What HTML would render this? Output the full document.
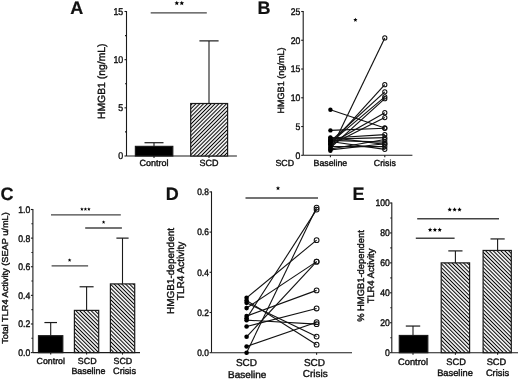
<!DOCTYPE html>
<html><head><meta charset="utf-8"><style>
html,body{margin:0;padding:0;background:#fff;width:520px;height:379px;overflow:hidden}
svg{display:block;will-change:transform}
text{font-family:"Liberation Sans",sans-serif;stroke:#111;stroke-width:0.4px;text-rendering:geometricPrecision}
text.L{stroke-width:0.2px}
</style></head><body>
<svg width="520" height="379" viewBox="0 0 520 379" font-family="Liberation Sans, sans-serif">
<defs>
<pattern id="hu" patternUnits="userSpaceOnUse" width="2.7" height="2.7" patternTransform="rotate(45)"><rect width="2.7" height="2.7" fill="#fff"/><line x1="1.35" y1="0" x2="1.35" y2="2.7" stroke="#000" stroke-width="1.05"/></pattern>
<pattern id="hd" patternUnits="userSpaceOnUse" width="2.7" height="2.7" patternTransform="rotate(-45)"><rect width="2.7" height="2.7" fill="#fff"/><line x1="1.35" y1="0" x2="1.35" y2="2.7" stroke="#000" stroke-width="1.05"/></pattern>
</defs>
<rect width="520" height="379" fill="#fff"/>
<text class="L" x="70.20" y="13.70" font-size="18" text-anchor="start" font-weight="bold" fill="#111">A</text>
<line x1="126.50" y1="156.00" x2="126.50" y2="11.00" stroke="#1a1a1a" stroke-width="1.1"/>
<line x1="124.50" y1="156.00" x2="126.50" y2="156.00" stroke="#1a1a1a" stroke-width="1.1"/>
<line x1="124.50" y1="107.83" x2="126.50" y2="107.83" stroke="#1a1a1a" stroke-width="1.1"/>
<line x1="124.50" y1="59.67" x2="126.50" y2="59.67" stroke="#1a1a1a" stroke-width="1.1"/>
<line x1="124.50" y1="11.50" x2="126.50" y2="11.50" stroke="#1a1a1a" stroke-width="1.1"/>
<line x1="125.00" y1="131.92" x2="126.50" y2="131.92" stroke="#1a1a1a" stroke-width="1.1"/>
<line x1="125.00" y1="83.75" x2="126.50" y2="83.75" stroke="#1a1a1a" stroke-width="1.1"/>
<line x1="125.00" y1="35.58" x2="126.50" y2="35.58" stroke="#1a1a1a" stroke-width="1.1"/>
<text transform="translate(123.20,159.40) scale(0.9,1)" font-size="9.8" text-anchor="end" fill="#111">0</text>
<text transform="translate(123.20,111.23) scale(0.9,1)" font-size="9.8" text-anchor="end" fill="#111">5</text>
<text transform="translate(123.20,63.07) scale(0.9,1)" font-size="9.8" text-anchor="end" fill="#111">10</text>
<text transform="translate(123.20,14.90) scale(0.9,1)" font-size="9.8" text-anchor="end" fill="#111">15</text>
<line x1="126.50" y1="156.00" x2="236.90" y2="156.00" stroke="#1a1a1a" stroke-width="1.1"/>
<line x1="154.00" y1="156.00" x2="154.00" y2="158.00" stroke="#1a1a1a" stroke-width="1.1"/>
<line x1="209.00" y1="156.00" x2="209.00" y2="158.00" stroke="#1a1a1a" stroke-width="1.1"/>
<rect x="135.40" y="146.37" width="37.40" height="9.63" fill="#000" stroke="#1a1a1a" stroke-width="1.2"/>
<line x1="154.00" y1="146.37" x2="154.00" y2="142.71" stroke="#1a1a1a" stroke-width="1.1"/>
<line x1="144.50" y1="142.71" x2="163.50" y2="142.71" stroke="#1a1a1a" stroke-width="1.2"/>
<rect x="190.70" y="103.50" width="36.90" height="52.50" fill="url(#hu)" stroke="#1a1a1a" stroke-width="1.2"/>
<line x1="209.00" y1="103.50" x2="209.00" y2="40.88" stroke="#1a1a1a" stroke-width="1.1"/>
<line x1="199.40" y1="40.88" x2="218.60" y2="40.88" stroke="#1a1a1a" stroke-width="1.2"/>
<line x1="150.70" y1="12.90" x2="206.80" y2="12.90" stroke="#444" stroke-width="1.35"/>
<polygon points="176.80,0.70 177.46,2.29 179.18,2.43 177.87,3.55 178.27,5.22 176.80,4.33 175.33,5.22 175.73,3.55 174.42,2.43 176.14,2.29" fill="#000"/>
<polygon points="181.80,0.70 182.46,2.29 184.18,2.43 182.87,3.55 183.27,5.22 181.80,4.33 180.33,5.22 180.73,3.55 179.42,2.43 181.14,2.29" fill="#000"/>
<text transform="translate(104.50,81.30) rotate(-90)" font-size="10.4" text-anchor="middle" font-weight="normal" fill="#111">HMGB1 (ng/mL)</text>
<text x="154.00" y="166.20" font-size="9" text-anchor="middle" font-weight="normal" fill="#111">Control</text>
<text x="209.00" y="166.20" font-size="9" text-anchor="middle" font-weight="normal" fill="#111">SCD</text>
<text class="L" x="257.60" y="13.70" font-size="18" text-anchor="start" font-weight="bold" fill="#111">B</text>
<line x1="303.20" y1="155.30" x2="303.20" y2="11.00" stroke="#1a1a1a" stroke-width="1.1"/>
<line x1="301.20" y1="155.30" x2="303.20" y2="155.30" stroke="#1a1a1a" stroke-width="1.1"/>
<line x1="301.20" y1="126.54" x2="303.20" y2="126.54" stroke="#1a1a1a" stroke-width="1.1"/>
<line x1="301.20" y1="97.78" x2="303.20" y2="97.78" stroke="#1a1a1a" stroke-width="1.1"/>
<line x1="301.20" y1="69.02" x2="303.20" y2="69.02" stroke="#1a1a1a" stroke-width="1.1"/>
<line x1="301.20" y1="40.26" x2="303.20" y2="40.26" stroke="#1a1a1a" stroke-width="1.1"/>
<line x1="301.20" y1="11.50" x2="303.20" y2="11.50" stroke="#1a1a1a" stroke-width="1.1"/>
<text transform="translate(300.30,158.70) scale(0.9,1)" font-size="9.6" text-anchor="end" fill="#111">0</text>
<text transform="translate(300.30,129.94) scale(0.9,1)" font-size="9.6" text-anchor="end" fill="#111">5</text>
<text transform="translate(300.30,101.18) scale(0.9,1)" font-size="9.6" text-anchor="end" fill="#111">10</text>
<text transform="translate(300.30,72.42) scale(0.9,1)" font-size="9.6" text-anchor="end" fill="#111">15</text>
<text transform="translate(300.30,43.66) scale(0.9,1)" font-size="9.6" text-anchor="end" fill="#111">20</text>
<text transform="translate(300.30,14.90) scale(0.9,1)" font-size="9.6" text-anchor="end" fill="#111">25</text>
<line x1="303.20" y1="155.30" x2="412.40" y2="155.30" stroke="#1a1a1a" stroke-width="1.1"/>
<line x1="330.40" y1="155.30" x2="330.40" y2="157.30" stroke="#1a1a1a" stroke-width="1.1"/>
<line x1="384.80" y1="155.30" x2="384.80" y2="157.30" stroke="#1a1a1a" stroke-width="1.1"/>
<line x1="330.40" y1="150.70" x2="384.80" y2="37.90" stroke="#111" stroke-width="1.15"/>
<line x1="330.40" y1="109.74" x2="384.80" y2="127.98" stroke="#111" stroke-width="1.15"/>
<line x1="330.40" y1="130.39" x2="384.80" y2="128.27" stroke="#111" stroke-width="1.15"/>
<line x1="330.40" y1="144.37" x2="384.80" y2="84.67" stroke="#111" stroke-width="1.15"/>
<line x1="330.40" y1="141.50" x2="384.80" y2="91.86" stroke="#111" stroke-width="1.15"/>
<line x1="330.40" y1="142.65" x2="384.80" y2="96.86" stroke="#111" stroke-width="1.15"/>
<line x1="330.40" y1="147.82" x2="384.80" y2="98.64" stroke="#111" stroke-width="1.15"/>
<line x1="330.40" y1="143.80" x2="384.80" y2="112.68" stroke="#111" stroke-width="1.15"/>
<line x1="330.40" y1="144.95" x2="384.80" y2="117.57" stroke="#111" stroke-width="1.15"/>
<line x1="330.40" y1="138.04" x2="384.80" y2="134.59" stroke="#111" stroke-width="1.15"/>
<line x1="330.40" y1="139.19" x2="384.80" y2="137.58" stroke="#111" stroke-width="1.15"/>
<line x1="330.40" y1="148.97" x2="384.80" y2="139.48" stroke="#111" stroke-width="1.15"/>
<line x1="330.40" y1="140.34" x2="384.80" y2="142.07" stroke="#111" stroke-width="1.15"/>
<line x1="330.40" y1="137.47" x2="384.80" y2="144.37" stroke="#111" stroke-width="1.15"/>
<line x1="330.40" y1="146.67" x2="384.80" y2="146.67" stroke="#111" stroke-width="1.15"/>
<line x1="330.40" y1="141.50" x2="384.80" y2="149.32" stroke="#111" stroke-width="1.15"/>
<line x1="330.40" y1="149.84" x2="384.80" y2="143.80" stroke="#111" stroke-width="1.15"/>
<circle cx="330.4" cy="150.70" r="2.2" fill="#000"/>
<circle cx="330.4" cy="109.74" r="2.2" fill="#000"/>
<circle cx="330.4" cy="130.39" r="2.2" fill="#000"/>
<circle cx="330.4" cy="144.37" r="2.2" fill="#000"/>
<circle cx="330.4" cy="141.50" r="2.2" fill="#000"/>
<circle cx="330.4" cy="142.65" r="2.2" fill="#000"/>
<circle cx="330.4" cy="147.82" r="2.2" fill="#000"/>
<circle cx="330.4" cy="143.80" r="2.2" fill="#000"/>
<circle cx="330.4" cy="144.95" r="2.2" fill="#000"/>
<circle cx="330.4" cy="138.04" r="2.2" fill="#000"/>
<circle cx="330.4" cy="139.19" r="2.2" fill="#000"/>
<circle cx="330.4" cy="148.97" r="2.2" fill="#000"/>
<circle cx="330.4" cy="140.34" r="2.2" fill="#000"/>
<circle cx="330.4" cy="137.47" r="2.2" fill="#000"/>
<circle cx="330.4" cy="146.67" r="2.2" fill="#000"/>
<circle cx="330.4" cy="141.50" r="2.2" fill="#000"/>
<circle cx="330.4" cy="149.84" r="2.2" fill="#000"/>
<circle cx="384.8" cy="37.90" r="2.1" fill="none" stroke="#111" stroke-width="1.05"/>
<circle cx="384.8" cy="127.98" r="2.1" fill="none" stroke="#111" stroke-width="1.05"/>
<circle cx="384.8" cy="128.27" r="2.1" fill="none" stroke="#111" stroke-width="1.05"/>
<circle cx="384.8" cy="84.67" r="2.1" fill="none" stroke="#111" stroke-width="1.05"/>
<circle cx="384.8" cy="91.86" r="2.1" fill="none" stroke="#111" stroke-width="1.05"/>
<circle cx="384.8" cy="96.86" r="2.1" fill="none" stroke="#111" stroke-width="1.05"/>
<circle cx="384.8" cy="98.64" r="2.1" fill="none" stroke="#111" stroke-width="1.05"/>
<circle cx="384.8" cy="112.68" r="2.1" fill="none" stroke="#111" stroke-width="1.05"/>
<circle cx="384.8" cy="117.57" r="2.1" fill="none" stroke="#111" stroke-width="1.05"/>
<circle cx="384.8" cy="134.59" r="2.1" fill="none" stroke="#111" stroke-width="1.05"/>
<circle cx="384.8" cy="137.58" r="2.1" fill="none" stroke="#111" stroke-width="1.05"/>
<circle cx="384.8" cy="139.48" r="2.1" fill="none" stroke="#111" stroke-width="1.05"/>
<circle cx="384.8" cy="142.07" r="2.1" fill="none" stroke="#111" stroke-width="1.05"/>
<circle cx="384.8" cy="144.37" r="2.1" fill="none" stroke="#111" stroke-width="1.05"/>
<circle cx="384.8" cy="146.67" r="2.1" fill="none" stroke="#111" stroke-width="1.05"/>
<circle cx="384.8" cy="149.32" r="2.1" fill="none" stroke="#111" stroke-width="1.05"/>
<circle cx="384.8" cy="143.80" r="2.1" fill="none" stroke="#111" stroke-width="1.05"/>
<polygon points="355.40,17.70 355.98,19.10 357.49,19.22 356.34,20.21 356.69,21.68 355.40,20.89 354.11,21.68 354.46,20.21 353.31,19.22 354.82,19.10" fill="#000"/>
<text transform="translate(284.00,80.50) rotate(-90)" font-size="9.1" text-anchor="middle" font-weight="normal" fill="#111">HMGB1 (ng/mL)</text>
<text x="284.80" y="166.10" font-size="8.8" text-anchor="middle" font-weight="normal" fill="#111">SCD</text>
<text x="330.40" y="166.10" font-size="8.8" text-anchor="middle" font-weight="normal" fill="#111">Baseline</text>
<text x="384.80" y="166.10" font-size="8.8" text-anchor="middle" font-weight="normal" fill="#111">Crisis</text>
<text class="L" x="0.60" y="199.70" font-size="18" text-anchor="start" font-weight="bold" fill="#111">C</text>
<line x1="32.90" y1="352.60" x2="32.90" y2="209.00" stroke="#1a1a1a" stroke-width="1.1"/>
<line x1="30.90" y1="352.60" x2="32.90" y2="352.60" stroke="#1a1a1a" stroke-width="1.1"/>
<line x1="30.90" y1="323.98" x2="32.90" y2="323.98" stroke="#1a1a1a" stroke-width="1.1"/>
<line x1="30.90" y1="295.36" x2="32.90" y2="295.36" stroke="#1a1a1a" stroke-width="1.1"/>
<line x1="30.90" y1="266.74" x2="32.90" y2="266.74" stroke="#1a1a1a" stroke-width="1.1"/>
<line x1="30.90" y1="238.12" x2="32.90" y2="238.12" stroke="#1a1a1a" stroke-width="1.1"/>
<line x1="30.90" y1="209.50" x2="32.90" y2="209.50" stroke="#1a1a1a" stroke-width="1.1"/>
<line x1="31.40" y1="338.29" x2="32.90" y2="338.29" stroke="#1a1a1a" stroke-width="1.1"/>
<line x1="31.40" y1="309.67" x2="32.90" y2="309.67" stroke="#1a1a1a" stroke-width="1.1"/>
<line x1="31.40" y1="281.05" x2="32.90" y2="281.05" stroke="#1a1a1a" stroke-width="1.1"/>
<line x1="31.40" y1="252.43" x2="32.90" y2="252.43" stroke="#1a1a1a" stroke-width="1.1"/>
<line x1="31.40" y1="223.81" x2="32.90" y2="223.81" stroke="#1a1a1a" stroke-width="1.1"/>
<text transform="translate(30.20,356.00) scale(0.9,1)" font-size="9.6" text-anchor="end" fill="#111">0.0</text>
<text transform="translate(30.20,327.38) scale(0.9,1)" font-size="9.6" text-anchor="end" fill="#111">0.2</text>
<text transform="translate(30.20,298.76) scale(0.9,1)" font-size="9.6" text-anchor="end" fill="#111">0.4</text>
<text transform="translate(30.20,270.14) scale(0.9,1)" font-size="9.6" text-anchor="end" fill="#111">0.6</text>
<text transform="translate(30.20,241.52) scale(0.9,1)" font-size="9.6" text-anchor="end" fill="#111">0.8</text>
<text transform="translate(30.20,212.90) scale(0.9,1)" font-size="9.6" text-anchor="end" fill="#111">1.0</text>
<line x1="32.90" y1="352.60" x2="140.00" y2="352.60" stroke="#1a1a1a" stroke-width="1.1"/>
<line x1="50.70" y1="352.60" x2="50.70" y2="354.60" stroke="#1a1a1a" stroke-width="1.1"/>
<line x1="86.60" y1="352.60" x2="86.60" y2="354.60" stroke="#1a1a1a" stroke-width="1.1"/>
<line x1="122.50" y1="352.60" x2="122.50" y2="354.60" stroke="#1a1a1a" stroke-width="1.1"/>
<rect x="38.50" y="335.71" width="24.30" height="16.89" fill="#000" stroke="#1a1a1a" stroke-width="1.2"/>
<line x1="50.70" y1="335.71" x2="50.70" y2="322.55" stroke="#1a1a1a" stroke-width="1.1"/>
<line x1="44.40" y1="322.55" x2="57.00" y2="322.55" stroke="#1a1a1a" stroke-width="1.2"/>
<rect x="74.40" y="310.39" width="24.30" height="42.21" fill="url(#hd)" stroke="#1a1a1a" stroke-width="1.2"/>
<line x1="86.60" y1="310.39" x2="86.60" y2="286.77" stroke="#1a1a1a" stroke-width="1.1"/>
<line x1="79.60" y1="286.77" x2="93.60" y2="286.77" stroke="#1a1a1a" stroke-width="1.2"/>
<rect x="110.40" y="283.91" width="24.30" height="68.69" fill="url(#hd)" stroke="#1a1a1a" stroke-width="1.2"/>
<line x1="122.50" y1="283.91" x2="122.50" y2="238.12" stroke="#1a1a1a" stroke-width="1.1"/>
<line x1="116.40" y1="238.12" x2="128.60" y2="238.12" stroke="#1a1a1a" stroke-width="1.2"/>
<line x1="51.00" y1="214.80" x2="120.80" y2="214.80" stroke="#444" stroke-width="1.35"/>
<polygon points="81.90,207.20 82.40,208.41 83.71,208.51 82.71,209.36 83.02,210.64 81.90,209.95 80.78,210.64 81.09,209.36 80.09,208.51 81.40,208.41" fill="#000"/>
<polygon points="85.40,207.20 85.90,208.41 87.21,208.51 86.21,209.36 86.52,210.64 85.40,209.95 84.28,210.64 84.59,209.36 83.59,208.51 84.90,208.41" fill="#000"/>
<polygon points="88.90,207.20 89.40,208.41 90.71,208.51 89.71,209.36 90.02,210.64 88.90,209.95 87.78,210.64 88.09,209.36 87.09,208.51 88.40,208.41" fill="#000"/>
<line x1="85.20" y1="228.00" x2="121.90" y2="228.00" stroke="#444" stroke-width="1.35"/>
<polygon points="103.60,220.20 104.10,221.41 105.41,221.51 104.41,222.36 104.72,223.64 103.60,222.95 102.48,223.64 102.79,222.36 101.79,221.51 103.10,221.41" fill="#000"/>
<line x1="51.60" y1="265.80" x2="88.10" y2="265.80" stroke="#444" stroke-width="1.35"/>
<polygon points="69.60,258.30 70.10,259.51 71.41,259.61 70.41,260.46 70.72,261.74 69.60,261.06 68.48,261.74 68.79,260.46 67.79,259.61 69.10,259.51" fill="#000"/>
<text transform="translate(8.3,278) rotate(-90) scale(1.07,1)" font-size="8.6" text-anchor="middle" fill="#111">Total TLR4 Activity (SEAP u/mL)</text>
<text x="50.80" y="363.60" font-size="8.8" text-anchor="middle" font-weight="normal" fill="#111">Control</text>
<text x="87.20" y="363.60" font-size="8.9" text-anchor="middle" font-weight="normal" fill="#111">SCD</text>
<text x="88.40" y="373.80" font-size="8.9" text-anchor="middle" font-weight="normal" fill="#111">Baseline</text>
<text x="122.90" y="363.60" font-size="8.9" text-anchor="middle" font-weight="normal" fill="#111">SCD</text>
<text x="124.50" y="373.80" font-size="9.2" text-anchor="middle" font-weight="normal" fill="#111">Crisis</text>
<text class="L" x="165.70" y="199.70" font-size="18" text-anchor="start" font-weight="bold" fill="#111">D</text>
<line x1="211.50" y1="352.70" x2="211.50" y2="191.40" stroke="#1a1a1a" stroke-width="1.1"/>
<line x1="209.50" y1="352.70" x2="211.50" y2="352.70" stroke="#1a1a1a" stroke-width="1.1"/>
<line x1="209.50" y1="312.50" x2="211.50" y2="312.50" stroke="#1a1a1a" stroke-width="1.1"/>
<line x1="209.50" y1="272.30" x2="211.50" y2="272.30" stroke="#1a1a1a" stroke-width="1.1"/>
<line x1="209.50" y1="232.10" x2="211.50" y2="232.10" stroke="#1a1a1a" stroke-width="1.1"/>
<line x1="209.50" y1="191.90" x2="211.50" y2="191.90" stroke="#1a1a1a" stroke-width="1.1"/>
<text transform="translate(208.80,356.00) scale(0.9,1)" font-size="9.3" text-anchor="end" fill="#111">0.0</text>
<text transform="translate(208.80,315.80) scale(0.9,1)" font-size="9.3" text-anchor="end" fill="#111">0.2</text>
<text transform="translate(208.80,275.60) scale(0.9,1)" font-size="9.3" text-anchor="end" fill="#111">0.4</text>
<text transform="translate(208.80,235.40) scale(0.9,1)" font-size="9.3" text-anchor="end" fill="#111">0.6</text>
<text transform="translate(208.80,195.20) scale(0.9,1)" font-size="9.3" text-anchor="end" fill="#111">0.8</text>
<line x1="211.50" y1="352.70" x2="352.00" y2="352.70" stroke="#1a1a1a" stroke-width="1.1"/>
<line x1="246.60" y1="352.70" x2="246.60" y2="354.70" stroke="#1a1a1a" stroke-width="1.1"/>
<line x1="316.60" y1="352.70" x2="316.60" y2="354.70" stroke="#1a1a1a" stroke-width="1.1"/>
<line x1="246.60" y1="352.70" x2="316.60" y2="207.58" stroke="#111" stroke-width="1.1"/>
<line x1="246.60" y1="318.33" x2="316.60" y2="209.59" stroke="#111" stroke-width="1.1"/>
<line x1="246.60" y1="297.83" x2="316.60" y2="240.14" stroke="#111" stroke-width="1.1"/>
<line x1="246.60" y1="308.08" x2="316.60" y2="261.65" stroke="#111" stroke-width="1.1"/>
<line x1="246.60" y1="336.82" x2="316.60" y2="261.65" stroke="#111" stroke-width="1.1"/>
<line x1="246.60" y1="326.57" x2="316.60" y2="308.48" stroke="#111" stroke-width="1.1"/>
<line x1="246.60" y1="346.47" x2="316.60" y2="322.15" stroke="#111" stroke-width="1.1"/>
<line x1="246.60" y1="316.12" x2="316.60" y2="290.39" stroke="#111" stroke-width="1.1"/>
<line x1="246.60" y1="320.14" x2="316.60" y2="324.16" stroke="#111" stroke-width="1.1"/>
<line x1="246.60" y1="300.44" x2="316.60" y2="344.66" stroke="#111" stroke-width="1.1"/>
<line x1="246.60" y1="302.85" x2="316.60" y2="336.62" stroke="#111" stroke-width="1.1"/>
<circle cx="246.6" cy="352.70" r="2.3" fill="#000"/>
<circle cx="246.6" cy="318.33" r="2.3" fill="#000"/>
<circle cx="246.6" cy="297.83" r="2.3" fill="#000"/>
<circle cx="246.6" cy="308.08" r="2.3" fill="#000"/>
<circle cx="246.6" cy="336.82" r="2.3" fill="#000"/>
<circle cx="246.6" cy="326.57" r="2.3" fill="#000"/>
<circle cx="246.6" cy="346.47" r="2.3" fill="#000"/>
<circle cx="246.6" cy="316.12" r="2.3" fill="#000"/>
<circle cx="246.6" cy="320.14" r="2.3" fill="#000"/>
<circle cx="246.6" cy="300.44" r="2.3" fill="#000"/>
<circle cx="246.6" cy="302.85" r="2.3" fill="#000"/>
<circle cx="316.6" cy="207.58" r="2.4" fill="none" stroke="#111" stroke-width="1.05"/>
<circle cx="316.6" cy="209.59" r="2.4" fill="none" stroke="#111" stroke-width="1.05"/>
<circle cx="316.6" cy="240.14" r="2.4" fill="none" stroke="#111" stroke-width="1.05"/>
<circle cx="316.6" cy="261.65" r="2.4" fill="none" stroke="#111" stroke-width="1.05"/>
<circle cx="316.6" cy="261.65" r="2.4" fill="none" stroke="#111" stroke-width="1.05"/>
<circle cx="316.6" cy="308.48" r="2.4" fill="none" stroke="#111" stroke-width="1.05"/>
<circle cx="316.6" cy="322.15" r="2.4" fill="none" stroke="#111" stroke-width="1.05"/>
<circle cx="316.6" cy="290.39" r="2.4" fill="none" stroke="#111" stroke-width="1.05"/>
<circle cx="316.6" cy="324.16" r="2.4" fill="none" stroke="#111" stroke-width="1.05"/>
<circle cx="316.6" cy="344.66" r="2.4" fill="none" stroke="#111" stroke-width="1.05"/>
<circle cx="316.6" cy="336.62" r="2.4" fill="none" stroke="#111" stroke-width="1.05"/>
<line x1="245.50" y1="198.00" x2="318.00" y2="198.00" stroke="#444" stroke-width="1.35"/>
<polygon points="278.00,186.00 278.61,187.46 280.19,187.59 278.98,188.62 279.35,190.16 278.00,189.34 276.65,190.16 277.02,188.62 275.81,187.59 277.39,187.46" fill="#000"/>
<text transform="translate(174.40,271.00) rotate(-90)" font-size="10" text-anchor="middle" font-weight="normal" fill="#111">HMGB1-dependent</text>
<text transform="translate(184.40,271.00) rotate(-90)" font-size="10" text-anchor="middle" font-weight="normal" fill="#111">TLR4 Activity</text>
<text x="246.45" y="366.40" font-size="10" text-anchor="middle" font-weight="normal" fill="#111">SCD</text>
<text x="247.25" y="377.50" font-size="10" text-anchor="middle" font-weight="normal" fill="#111">Baseline</text>
<text x="314.50" y="366.00" font-size="10" text-anchor="middle" font-weight="normal" fill="#111">SCD</text>
<text x="315.30" y="377.10" font-size="10" text-anchor="middle" font-weight="normal" fill="#111">Crisis</text>
<text class="L" x="352.40" y="199.70" font-size="18" text-anchor="start" font-weight="bold" fill="#111">E</text>
<line x1="391.80" y1="352.70" x2="391.80" y2="202.50" stroke="#1a1a1a" stroke-width="1.1"/>
<line x1="389.80" y1="352.70" x2="391.80" y2="352.70" stroke="#1a1a1a" stroke-width="1.1"/>
<line x1="389.80" y1="322.76" x2="391.80" y2="322.76" stroke="#1a1a1a" stroke-width="1.1"/>
<line x1="389.80" y1="292.82" x2="391.80" y2="292.82" stroke="#1a1a1a" stroke-width="1.1"/>
<line x1="389.80" y1="262.88" x2="391.80" y2="262.88" stroke="#1a1a1a" stroke-width="1.1"/>
<line x1="389.80" y1="232.94" x2="391.80" y2="232.94" stroke="#1a1a1a" stroke-width="1.1"/>
<line x1="389.80" y1="203.00" x2="391.80" y2="203.00" stroke="#1a1a1a" stroke-width="1.1"/>
<line x1="390.30" y1="337.73" x2="391.80" y2="337.73" stroke="#1a1a1a" stroke-width="1.1"/>
<line x1="390.30" y1="307.79" x2="391.80" y2="307.79" stroke="#1a1a1a" stroke-width="1.1"/>
<line x1="390.30" y1="277.85" x2="391.80" y2="277.85" stroke="#1a1a1a" stroke-width="1.1"/>
<line x1="390.30" y1="247.91" x2="391.80" y2="247.91" stroke="#1a1a1a" stroke-width="1.1"/>
<line x1="390.30" y1="217.97" x2="391.80" y2="217.97" stroke="#1a1a1a" stroke-width="1.1"/>
<text transform="translate(389.80,356.10) scale(0.9,1)" font-size="9.6" text-anchor="end" fill="#111">0</text>
<text transform="translate(389.80,326.16) scale(0.9,1)" font-size="9.6" text-anchor="end" fill="#111">20</text>
<text transform="translate(389.80,296.22) scale(0.9,1)" font-size="9.6" text-anchor="end" fill="#111">40</text>
<text transform="translate(389.80,266.28) scale(0.9,1)" font-size="9.6" text-anchor="end" fill="#111">60</text>
<text transform="translate(389.80,236.34) scale(0.9,1)" font-size="9.6" text-anchor="end" fill="#111">80</text>
<text transform="translate(389.80,206.40) scale(0.9,1)" font-size="9.6" text-anchor="end" fill="#111">100</text>
<line x1="391.80" y1="352.70" x2="518.00" y2="352.70" stroke="#1a1a1a" stroke-width="1.1"/>
<line x1="413.00" y1="352.70" x2="413.00" y2="354.70" stroke="#1a1a1a" stroke-width="1.1"/>
<line x1="455.40" y1="352.70" x2="455.40" y2="354.70" stroke="#1a1a1a" stroke-width="1.1"/>
<line x1="497.60" y1="352.70" x2="497.60" y2="354.70" stroke="#1a1a1a" stroke-width="1.1"/>
<rect x="399.30" y="335.48" width="28.50" height="17.22" fill="#000" stroke="#1a1a1a" stroke-width="1.2"/>
<line x1="413.00" y1="335.48" x2="413.00" y2="326.05" stroke="#1a1a1a" stroke-width="1.1"/>
<line x1="405.80" y1="326.05" x2="420.20" y2="326.05" stroke="#1a1a1a" stroke-width="1.2"/>
<rect x="441.20" y="262.88" width="28.40" height="89.82" fill="url(#hd)" stroke="#1a1a1a" stroke-width="1.2"/>
<line x1="455.40" y1="262.88" x2="455.40" y2="250.90" stroke="#1a1a1a" stroke-width="1.1"/>
<line x1="448.30" y1="250.90" x2="462.50" y2="250.90" stroke="#1a1a1a" stroke-width="1.2"/>
<rect x="483.10" y="250.45" width="28.20" height="102.25" fill="url(#hd)" stroke="#1a1a1a" stroke-width="1.2"/>
<line x1="497.60" y1="250.45" x2="497.60" y2="238.93" stroke="#1a1a1a" stroke-width="1.1"/>
<line x1="490.50" y1="238.93" x2="504.70" y2="238.93" stroke="#1a1a1a" stroke-width="1.2"/>
<line x1="417.20" y1="218.70" x2="499.00" y2="218.70" stroke="#444" stroke-width="1.35"/>
<polygon points="449.70,207.30 450.31,208.76 451.89,208.89 450.68,209.92 451.05,211.46 449.70,210.63 448.35,211.46 448.72,209.92 447.51,208.89 449.09,208.76" fill="#000"/>
<polygon points="454.60,207.30 455.21,208.76 456.79,208.89 455.58,209.92 455.95,211.46 454.60,210.63 453.25,211.46 453.62,209.92 452.41,208.89 453.99,208.76" fill="#000"/>
<polygon points="459.50,207.30 460.11,208.76 461.69,208.89 460.48,209.92 460.85,211.46 459.50,210.63 458.15,211.46 458.52,209.92 457.31,208.89 458.89,208.76" fill="#000"/>
<line x1="415.80" y1="238.20" x2="454.60" y2="238.20" stroke="#444" stroke-width="1.35"/>
<polygon points="430.10,227.60 430.71,229.06 432.29,229.19 431.08,230.22 431.45,231.76 430.10,230.94 428.75,231.76 429.12,230.22 427.91,229.19 429.49,229.06" fill="#000"/>
<polygon points="434.90,227.60 435.51,229.06 437.09,229.19 435.88,230.22 436.25,231.76 434.90,230.94 433.55,231.76 433.92,230.22 432.71,229.19 434.29,229.06" fill="#000"/>
<polygon points="439.70,227.60 440.31,229.06 441.89,229.19 440.68,230.22 441.05,231.76 439.70,230.94 438.35,231.76 438.72,230.22 437.51,229.19 439.09,229.06" fill="#000"/>
<text transform="translate(363.60,276.00) rotate(-90)" font-size="9.4" text-anchor="middle" font-weight="normal" fill="#111">% HMGB1-dependent</text>
<text transform="translate(373.90,276.00) rotate(-90)" font-size="9.4" text-anchor="middle" font-weight="normal" fill="#111">TLR4 Activity</text>
<text x="413.00" y="365.00" font-size="9.3" text-anchor="middle" font-weight="normal" fill="#111">Control</text>
<text x="456.10" y="365.20" font-size="9.3" text-anchor="middle" font-weight="normal" fill="#111">SCD</text>
<text x="455.00" y="375.70" font-size="9.3" text-anchor="middle" font-weight="normal" fill="#111">Baseline</text>
<text x="496.50" y="365.20" font-size="9.3" text-anchor="middle" font-weight="normal" fill="#111">SCD</text>
<text x="497.50" y="375.70" font-size="9.3" text-anchor="middle" font-weight="normal" fill="#111">Crisis</text>
</svg>
</body></html>
